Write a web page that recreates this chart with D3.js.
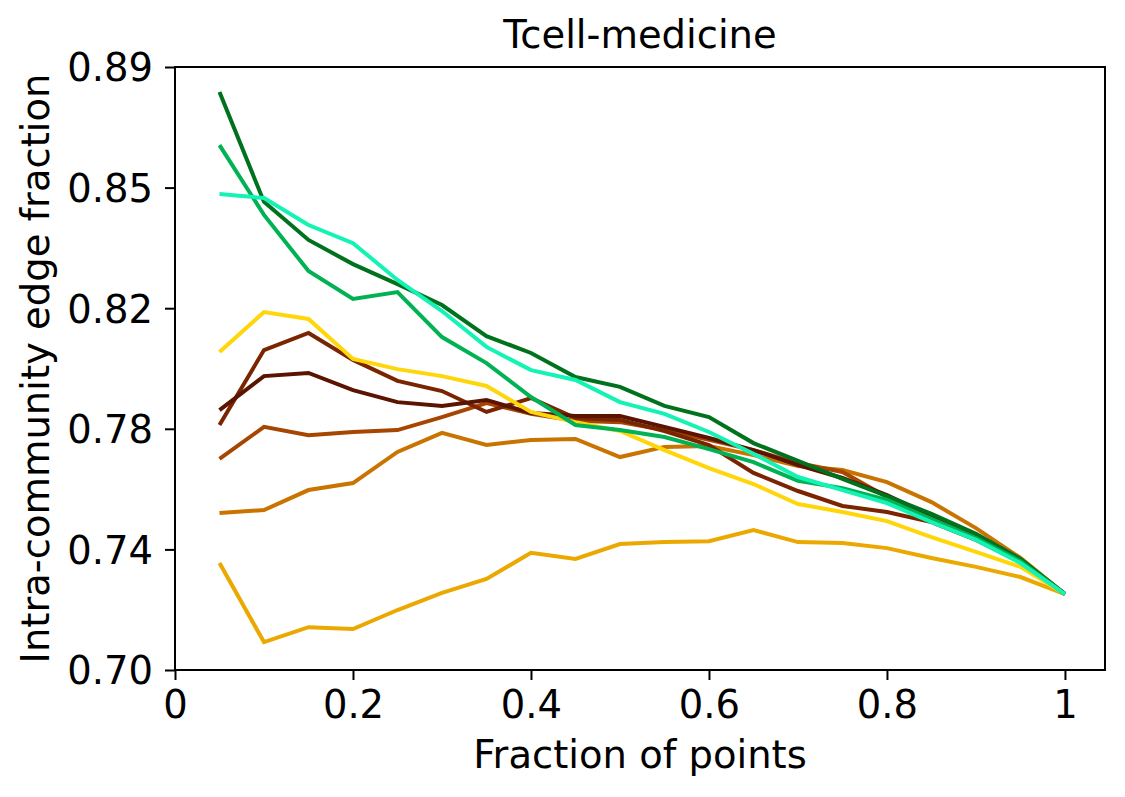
<!DOCTYPE html>
<html>
<head>
<meta charset="utf-8">
<script src="https://cdn.jsdelivr.net/npm/d3@7"></script>
<style>
  html, body { margin: 0; padding: 0; background: #fff; }
  svg { display: block; font-family: "DejaVu Sans", sans-serif; }
</style>
</head>
<body>
<svg id="chart" width="1125" height="797"></svg>
<script>
// Chart data.
var fractions = [0.05, 0.10, 0.15, 0.20, 0.25, 0.30, 0.35, 0.40, 0.45, 0.50,
                 0.55, 0.60, 0.65, 0.70, 0.75, 0.80, 0.85, 0.90, 0.95, 1.00];

var amber = [0.7337, 0.7088, 0.7135, 0.7129, 0.7189, 0.7243, 0.7287, 0.7369, 0.7350, 0.7397,
             0.7403, 0.7406, 0.7441, 0.7403, 0.7400, 0.7384, 0.7353, 0.7325, 0.7293, 0.7239];
var orange = [0.7495, 0.7504, 0.7567, 0.7589, 0.7687, 0.7747, 0.7709, 0.7725, 0.7728, 0.7671,
              0.7703, 0.7706, 0.7677, 0.7643, 0.7630, 0.7592, 0.7529, 0.7447, 0.7353, 0.7239];
var brownOrange = [0.7665, 0.7766, 0.7740, 0.7750, 0.7756, 0.7797, 0.7841, 0.7807, 0.7785, 0.7781,
                   0.7756, 0.7725, 0.7693, 0.7652, 0.7624, 0.7545, 0.7479, 0.7422, 0.7347, 0.7239];
var brownRed = [0.7772, 0.8008, 0.8062, 0.7977, 0.7911, 0.7879, 0.7813, 0.7857, 0.7794, 0.7788,
                0.7753, 0.7709, 0.7621, 0.7564, 0.7517, 0.7498, 0.7466, 0.7410, 0.7340, 0.7239];
var darkBrown = [0.7819, 0.7926, 0.7936, 0.7882, 0.7844, 0.7832, 0.7851, 0.7810, 0.7800, 0.7800,
                 0.7766, 0.7731, 0.7693, 0.7646, 0.7605, 0.7551, 0.7485, 0.7422, 0.7347, 0.7239];
var yellow = [0.8002, 0.8128, 0.8106, 0.7980, 0.7948, 0.7926, 0.7895, 0.7813, 0.7781, 0.7753,
              0.7693, 0.7636, 0.7586, 0.7523, 0.7498, 0.7469, 0.7419, 0.7372, 0.7325, 0.7239];
var darkGreen = [0.8821, 0.8475, 0.8355, 0.8279, 0.8216, 0.8150, 0.8052, 0.7999, 0.7923, 0.7892,
                 0.7832, 0.7797, 0.7715, 0.7659, 0.7602, 0.7548, 0.7492, 0.7429, 0.7350, 0.7239];
var midGreen = [0.8654, 0.8434, 0.8257, 0.8169, 0.8191, 0.8049, 0.7967, 0.7860, 0.7772, 0.7756,
                0.7734, 0.7696, 0.7655, 0.7596, 0.7573, 0.7536, 0.7476, 0.7416, 0.7343, 0.7239];
var aquaGreen = [0.8500, 0.8487, 0.8402, 0.8345, 0.8229, 0.8131, 0.8018, 0.7945, 0.7914, 0.7844,
                 0.7807, 0.7750, 0.7681, 0.7608, 0.7567, 0.7526, 0.7466, 0.7410, 0.7337, 0.7239];

// Drawing order and colours.
var seriesList = [amber, orange, brownOrange, brownRed, darkBrown, yellow, darkGreen, midGreen, aquaGreen];
var seriesColors = ["#eba800", "#c97400", "#a64600", "#7a2400", "#5a1400", "#ffd60a", "#00721e", "#00b254", "#14f2b4"];

var xTickValues = [0, 0.2, 0.4, 0.6, 0.8, 1.0];
var xTickLabels = ["0", "0.2", "0.4", "0.6", "0.8", "1"];
var yTickValues = [0.70, 0.738, 0.776, 0.814, 0.852, 0.89];
var yTickLabels = ["0.70", "0.74", "0.78", "0.82", "0.85", "0.89"];

var titleText = "Tcell-medicine";
var xLabelText = "Fraction of points";
var yLabelText = "Intra-community edge fraction";

// Layout.
var margin = {left: 175, top: 67, right: 20, bottom: 127};
var fontSize = "38.5px";
var svg = d3.select("#chart");
var width = +svg.attr("width") - margin.left - margin.right;
var height = +svg.attr("height") - margin.top - margin.bottom;

var x = d3.scaleLinear().domain([0, 1.045]).range([0, width]);
var y = d3.scaleLinear().domain([0.70, 0.89]).range([height, 0]);

var g = svg.append("g").attr("transform", "translate(" + margin.left + "," + margin.top + ")");

// Lines.
var line = d3.line()
    .x(function (d, i) { return x(fractions[i]); })
    .y(function (d) { return y(d); });

g.selectAll("path.series")
    .data(seriesList)
    .enter().append("path")
    .attr("class", "series")
    .attr("d", line)
    .attr("fill", "none")
    .attr("stroke", function (d, i) { return seriesColors[i]; })
    .attr("stroke-width", 4)
    .attr("stroke-linejoin", "miter")
    .attr("stroke-linecap", "butt");

// Axes.
var xAxis = d3.axisBottom(x)
    .tickValues(xTickValues)
    .tickFormat(function (d, i) { return xTickLabels[i]; })
    .tickSize(10)
    .tickPadding(11);

var yAxis = d3.axisLeft(y)
    .tickValues(yTickValues)
    .tickFormat(function (d, i) { return yTickLabels[i]; })
    .tickSize(10)
    .tickPadding(12);

var gx = g.append("g").attr("transform", "translate(0," + height + ")").call(xAxis);
var gy = g.append("g").call(yAxis);

[gx, gy].forEach(function (ax) {
    ax.select(".domain").remove();
    ax.selectAll(".tick line").attr("stroke", "#000").attr("stroke-width", 2);
    ax.selectAll(".tick text")
        .attr("fill", "#000")
        .style("font-size", fontSize)
        .style("font-family", "DejaVu Sans, sans-serif");
});
gx.selectAll(".tick text").attr("dy", "0.71em");
gy.selectAll(".tick text").attr("dy", "0.36em");

// Frame.
g.append("rect")
    .attr("x", 0).attr("y", 0)
    .attr("width", width).attr("height", height)
    .attr("fill", "none")
    .attr("stroke", "#000")
    .attr("stroke-width", 2);

// Title and axis labels.
svg.append("text")
    .attr("x", margin.left + width / 2)
    .attr("y", 48)
    .attr("text-anchor", "middle")
    .style("font-size", fontSize)
    .text(titleText);

svg.append("text")
    .attr("x", margin.left + width / 2)
    .attr("y", 768)
    .attr("text-anchor", "middle")
    .style("font-size", fontSize)
    .text(xLabelText);

svg.append("text")
    .attr("transform", "translate(49," + (margin.top + height / 2) + ") rotate(-90)")
    .attr("text-anchor", "middle")
    .style("font-size", fontSize)
    .text(yLabelText);
</script>
</body>
</html>
